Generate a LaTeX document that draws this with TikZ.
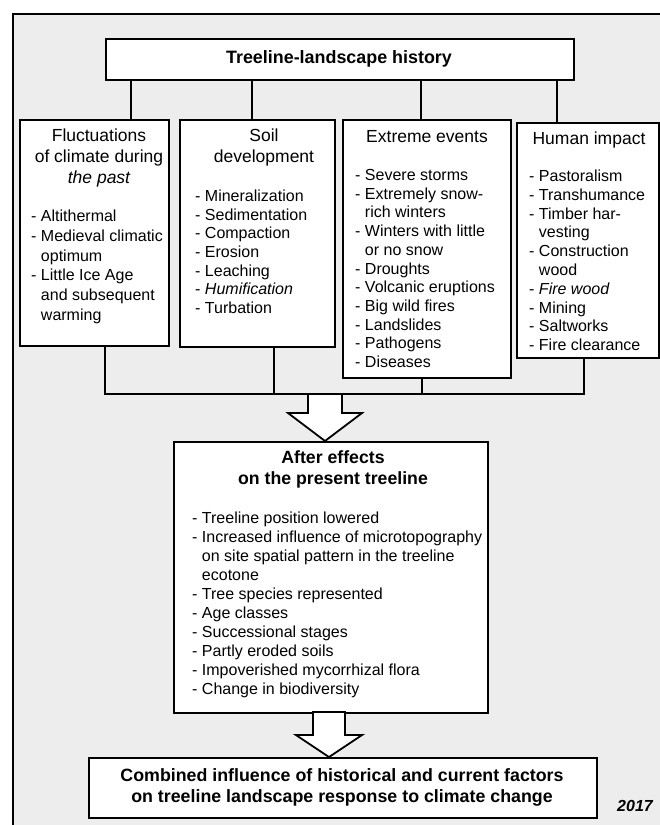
\documentclass[tikz,border=0pt]{standalone}
\usepackage{fontspec}
\setmainfont{Liberation Sans}
\usetikzlibrary{calc}
\definecolor{bgc}{gray}{0.93}
\newcommand\mylist[2][18.7pt]{\parbox[t]{300pt}{\fontsize{16pt}{#1}\selectfont\raggedright #2}}
\newcommand\myhead[3][17.5pt]{\parbox[t]{#2}{\centering\fontsize{#1}{21pt}\selectfont #3}}
\newcommand\ind{\phantom{- }}
\begin{document}
\begin{tikzpicture}[x=1pt,y=-1pt,
  box/.style={draw,fill=white,line width=1.8pt,inner sep=0pt,anchor=north west},
  conn/.style={line width=1.8pt},
  blk/.style={draw,fill=white,line width=1.8pt,line join=miter},
  txt/.style={inner sep=0pt,anchor=base west},
  ctxt/.style={inner sep=0pt,anchor=base}]
\useasboundingbox (0,0) rectangle (660,825);
% background and frame
\fill[bgc] (13,14) rectangle (662,827);
\draw[conn] (13,827) -- (13,14) -- (662,14);
% title
\node[box,minimum width=468pt,minimum height=41pt] (title) at (105,38) {};
\node[ctxt] (titletxt) at (339,63) {\fontsize{17.9pt}{21pt}\selectfont\bfseries Treeline-landscape history};
% four boxes
\node[box,minimum width=149pt,minimum height=226pt] (b1) at (19,119) {};
\node[box,minimum width=155pt,minimum height=227pt] (b2) at (179,119) {};
\node[box,minimum width=168pt,minimum height=258pt] (b3) at (342,119) {};
\node[box,minimum width=142pt,minimum height=235pt] (b4) at (516,122) {};
% headers
\node[ctxt] (h1) at (99,141) {\myhead{160pt}{Fluctuations\\ of climate during\\ \itshape the past}};
\node[ctxt] (h2) at (264,141) {\myhead{160pt}{Soil\\ development}};
\node[ctxt] (h3) at (427,142) {\myhead{170pt}{Extreme events}};
\node[ctxt] (h4) at (589,144) {\myhead{150pt}{Human impact}};
% lists
\node[txt] (l1) at (31,221.5) {\mylist[19.8pt]{- Altithermal\\ - Medieval climatic\\ \ind optimum\\ - Little Ice Age\\ \ind and subsequent\\ \ind warming}};
\node[txt] (l2) at (195,201.5) {\mylist[18.67pt]{- Mineralization\\ - Sedimentation\\ - Compaction\\ - Erosion\\ - Leaching\\ - \textit{Humification}\\ - Turbation}};
\node[txt] (l3) at (355,180.5) {\mylist[18.7pt]{- Severe storms\\ - Extremely snow-\\ \ind rich winters\\ - Winters with little\\ \ind or no snow\\ - Droughts\\ - Volcanic eruptions\\ - Big wild fires\\ - Landslides\\ - Pathogens\\ - Diseases}};
\node[txt] (l4) at (529,181.5) {\mylist[18.8pt]{- Pastoralism\\ - Transhumance\\ - Timber har-\\ \ind vesting\\ - Construction\\ \ind wood\\ - \textit{Fire wood}\\ - Mining\\ - Saltworks\\ - Fire clearance}};
% top connectors
\coordinate (t1) at (131,0);
\coordinate (t2) at (252,0);
\coordinate (t3) at (421,0);
\coordinate (t4) at (557,0);
\draw[conn] (title.south -| t1) -- (b1.north -| t1);
\draw[conn] (title.south -| t2) -- (b2.north -| t2);
\draw[conn] (title.south -| t3) -- (b3.north -| t3);
\draw[conn] (title.south -| t4) -- (b4.north -| t4);
% bottom connectors
\coordinate (k1) at (105,394);
\coordinate (k2) at (274,394);
\coordinate (k3) at (422,394);
\coordinate (k4) at (584,394);
\draw[conn,line join=miter] (b1.south -| k1) -- (k1) -- (k4) -- (b4.south -| k4);
\draw[conn] (b2.south -| k2) -- (k2);
\draw[conn] (b3.south -| k3) -- (k3);
% after effects box
\node[box,minimum width=314pt,minimum height=271pt] (after) at (173,441) {};
\node[ctxt] (ah) at (333,463) {\myhead[17.7pt]{300pt}{\bfseries After effects\\ on the present treeline}};
\node[txt] (al) at (192,523.5) {\mylist[19pt]{- Treeline position lowered\\ - Increased influence of microtopography\\ \ind on site spatial pattern in the treeline\\ \ind ecotone\\ - Tree species represented\\ - Age classes\\ - Successional stages\\ - Partly eroded soils\\ - Impoverished mycorrhizal flora\\ - Change in biodiversity}};
% arrow 1
\coordinate (a1) at (325,394);
\draw[blk] ($(a1)+(-17,0)$) -- ($(a1)+(-17,19)$) -- ($(a1)+(-37,19)$) -- (after.north -| a1) -- ($(a1)+(37,19)$) -- ($(a1)+(17,19)$) -- ($(a1)+(17,0)$) -- cycle;
% bottom box
\node[box,minimum width=508pt,minimum height=60pt] (final) at (88,757) {};
\node[ctxt] (ft) at (342,781) {\myhead[17.8pt]{500pt}{\bfseries Combined influence of historical and current factors\\ on treeline landscape response to climate change}};
% arrow 2
\coordinate (a2) at (329,712);
\draw[blk] ($(a2)+(-16,0)$) -- ($(a2)+(-16,23)$) -- ($(a2)+(-33,23)$) -- (final.north -| a2) -- ($(a2)+(33,23)$) -- ($(a2)+(16,23)$) -- ($(a2)+(16,0)$) -- cycle;
% year
\node[ctxt] (year) at (635,811) {\fontsize{16pt}{19pt}\selectfont\bfseries\itshape 2017};
\end{tikzpicture}
\end{document}
